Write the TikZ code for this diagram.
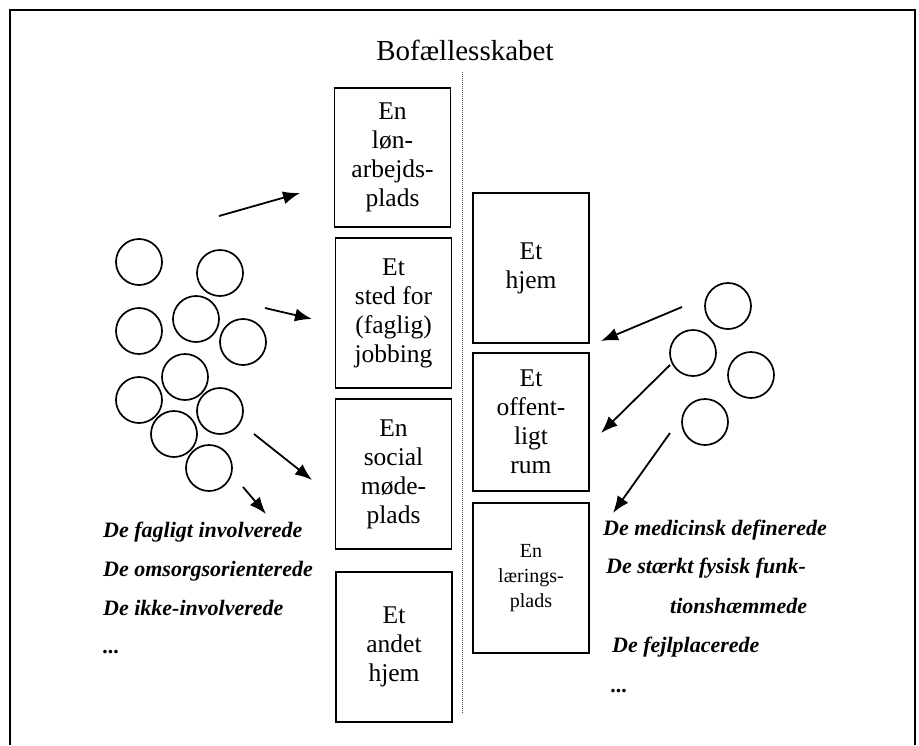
\documentclass[tikz,border=0pt]{standalone}
\usepackage{fontspec}
\setmainfont{Liberation Serif}
\usetikzlibrary{arrows.meta}

\begin{document}
\begin{tikzpicture}[x=1pt,y=1pt,yscale=-1,xscale=1,
  place/.style={draw,line width=1.8pt,inner sep=0pt,align=center,minimum width=116pt,minimum height=150pt,font=\fontsize{25.5}{29}\selectfont},
  person/.style={draw,circle,line width=1.7pt,minimum size=46pt,inner sep=0pt},
  push/.style={line width=1.8pt,-{Latex[length=17pt,width=13pt]}},
  group/.style={anchor=base west,inner sep=0pt,font=\fontsize{22}{26}\selectfont\bfseries\itshape}]
\useasboundingbox (0,0) rectangle (919,745);

%Shape: Frame
\draw [line width=2.2pt] (10,745) -- (10,10) -- (915,10) -- (915,745) ;
%Text: Title
\node [anchor=base,inner sep=0pt,font=\fontsize{29}{33}\selectfont] (title) at (465,60) {Bofællesskabet};
%Straight Lines: divider
\draw [line width=1pt,color=black!70,dash pattern={on 1pt off 1pt}] (462,72) -- (462,713) ;

%Shape: Rectangle (left column)
\node [place,minimum height=139pt] (lon) at (392.5,157.5) {En\\løn-\\arbejds-\\plads};
%Shape: Rectangle
\node [place] (jobbing) at (393.5,313) {Et\\sted for\\(faglig)\\jobbing};
%Shape: Rectangle
\node [place] (social) at (393.5,474) {En\\social\\møde-\\plads};
%Shape: Rectangle
\node [place] (andet) at (394,647) {Et\\andet\\hjem};

%Shape: Rectangle (right column)
\node [place] (hjem) at (531,268) {Et\\hjem};
%Shape: Rectangle
\node [place,minimum height=138pt] (rum) at (531,422) {Et\\offent-\\ligt\\rum};
%Shape: Rectangle
\node [place,font=\fontsize{20}{25}\selectfont] (laering) at (531,578) {En\\lærings-\\plads};

%Shape: Circle (staff)
\node [person] (s1) at (139,262) {};
\node [person] (s2) at (220,273) {};
\node [person] (s3) at (139,331) {};
\node [person] (s4) at (196,319) {};
\node [person] (s5) at (243,342) {};
\node [person] (s6) at (185,377) {};
\node [person] (s7) at (139,400) {};
\node [person] (s8) at (220,411) {};
\node [person] (s9) at (174,434) {};
\node [person] (s10) at (209,468) {};

%Shape: Circle (residents)
\node [person] (r1) at (728,306) {};
\node [person] (r2) at (693,353) {};
\node [person] (r3) at (751,375) {};
\node [person] (r4) at (705,422) {};

%Straight Lines: arrow ends
\coordinate (a1) at (219,216) ; \coordinate (a1tip) at (300,193) ;
\coordinate (a2) at (265,308) ; \coordinate (a2tip) at (312,319) ;
\coordinate (a3) at (254,434) ; \coordinate (a3tip) at (312,480) ;
\coordinate (a4) at (243,487) ; \coordinate (a4tip) at (266,514) ;
\coordinate (b1) at (682,307) ; \coordinate (b1tip) at (601,341) ;
\coordinate (b2) at (670,365) ; \coordinate (b2tip) at (601,433) ;
\coordinate (b3) at (670,433) ; \coordinate (b3tip) at (613,513) ;
%Straight Lines
\draw [push] (a1) -- (a1tip) ;
\draw [push] (a2) -- (a2tip) ;
\draw [push] (a3) -- (a3tip) ;
\draw [push] (a4) -- (a4tip) ;
\draw [push] (b1) -- (b1tip) ;
\draw [push] (b2) -- (b2tip) ;
\draw [push] (b3) -- (b3tip) ;

%Text: staff groups
\node [group] (fagligt) at (103,537) {De fagligt involverede};
\node [group] (omsorg) at (103,576) {De omsorgsorienterede};
\node [group] (ikke) at (103,615) {De ikke-involverede};
\node [group] (ldots) at (103,653) {...};

%Text: resident groups
\node [group] (medicinsk) at (603,535) {De medicinsk definerede};
\node [group] (fysisk) at (606,573) {De stærkt fysisk funk-};
\node [group] (fysisk2) at (670,613) {tionshæmmede};
\node [group] (fejl) at (612,652) {De fejlplacerede};
\node [group] (rdots) at (611,692) {...};

\end{tikzpicture}
\end{document}
